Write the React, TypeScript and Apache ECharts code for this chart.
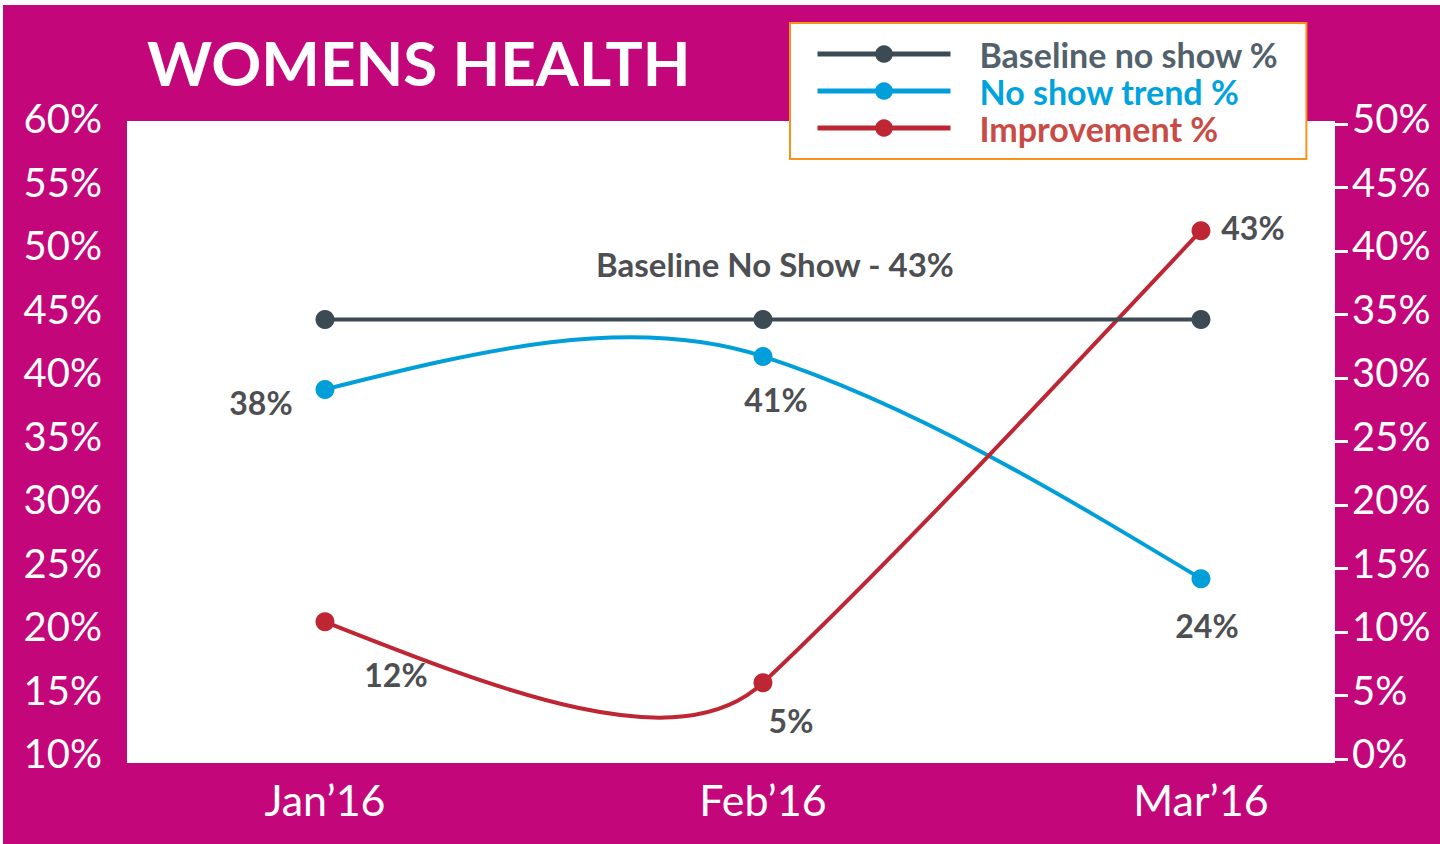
import React, { useEffect, useRef } from "react";
import * as echarts from "echarts";

const categories = ["Jan’16", "Feb’16", "Mar’16"];
const baselineValues = [44.6, 44.6, 44.6];
const trendValues = [39.1, 41.7, 24.2];
const improvementValues = [10.8, 6.0, 41.6];
const trendLabels = ["38%", "41%", "24%"];
const improvementLabels = ["12%", "5%", "43%"];
const baselineLabels = ["", "Baseline No Show - 43%", ""];
const seriesNames = ["Baseline no show %", "No show trend %", "Improvement %"];

// label offsets relative to each point (style)
const trendOffsets = [[-64, 13], [13, 43], [6, 47]];
const improvementOffsets = [[71, 53], [28, 38], [52, -3]];
const baselineOffsets = [[0, 0], [12, -56], [0, 0]];

const FONT = "Lato, 'Open Sans', sans-serif";
const MAGENTA = "#C4067B";
const C_BASE = "#3C4A54";
const C_TREND = "#009FDA";
const C_IMP = "#BE2633";
const LABEL = "#4D4F52";
// curve smoothing styles
const WEIGHT_POWER = 7;
const TREND_SMOOTH = 0.32;
const IMP_SMOOTH = 0.26;

function buildData(values: number[], labels: string[], offsets: number[][], size: number) {
  return values.map((v, i) => ({
    value: [i, v],
    label: {
      show: labels[i] !== "",
      formatter: labels[i],
      position: "inside",
      offset: offsets[i],
      align: "center",
      verticalAlign: "middle",
      color: LABEL,
      fontFamily: FONT,
      fontWeight: "bold",
      fontSize: size,
    },
  }));
}

function controls(pts: number[][], c: number) {
  const n = pts.length;
  const inC: number[][] = pts.map((p) => [p[0], p[1]]);
  const outC: number[][] = pts.map((p) => [p[0], p[1]]);
  for (let j = 1; j < n - 1; j++) {
    const a = pts[j - 1], p = pts[j], b = pts[j + 1];
    const d0 = Math.hypot(p[0] - a[0], p[1] - a[1]);
    const d1 = Math.hypot(b[0] - p[0], b[1] - p[1]);
    const w1 = Math.pow(d1 / d0, WEIGHT_POWER);
    const tx = p[0] - a[0] + w1 * (b[0] - p[0]);
    const ty = p[1] - a[1] + w1 * (b[1] - p[1]);
    const tl = Math.hypot(tx, ty) || 1;
    const ux = tx / tl, uy = ty / tl;
    inC[j] = [p[0] - ux * c * d0, p[1] - uy * c * d0];
    outC[j] = [p[0] + ux * c * d1, p[1] + uy * c * d1];
  }
  if (n > 2) {
    outC[0] = [(pts[0][0] + inC[1][0]) / 2, (pts[0][1] + inC[1][1]) / 2];
    inC[n - 1] = [(pts[n - 1][0] + outC[n - 2][0]) / 2, (pts[n - 1][1] + outC[n - 2][1]) / 2];
  }
  return { inC, outC };
}

function curveSeries(values: number[], color: string, yAxisIndex: number, c: number) {
  return {
    type: "custom",
    name: "curve-" + color,
    yAxisIndex,
    silent: true,
    z: 3,
    data: values.map((v, i) => [i, v]),
    renderItem: (params: any, api: any) => {
      const i = params.dataIndex;
      if (i === 0) return null;
      const pts = values.map((v, j) => api.coord([j, v]));
      const { inC, outC } = controls(pts, c);
      const p0 = pts[i - 1];
      const p1 = pts[i];
      return {
        type: "bezierCurve",
        shape: {
          x1: p0[0],
          y1: p0[1],
          cpx1: outC[i - 1][0],
          cpy1: outC[i - 1][1],
          cpx2: inC[i][0],
          cpy2: inC[i][1],
          x2: p1[0],
          y2: p1[1],
        },
        style: { stroke: color, lineWidth: 4, fill: "none" },
      };
    },
  };
}

export default function App() {
  const ref = useRef<HTMLDivElement>(null);
  useEffect(() => {
    document.body.style.margin = "0";
    const chart = echarts.init(ref.current!, null, { renderer: "svg" });
    const lineSeries = (name: string, color: string, data: any[], yAxisIndex: number, showLine: boolean) => ({
      name,
      type: "line",
      yAxisIndex,
      data,
      symbol: "circle",
      symbolSize: 19,
      lineStyle: { color, width: 4, opacity: showLine ? 1 : 0 },
      itemStyle: { color },
      z: 5,
    });
    const yLabel = (margin: number) => ({
      formatter: "{value}%",
      color: "#ffffff",
      fontFamily: FONT,
      fontSize: 40,
      margin,
      verticalAlign: "bottom",
      lineHeight: 12,
    });
    chart.setOption({
      animation: false,
      backgroundColor: "#ffffff",
      textStyle: { fontFamily: FONT },
      graphic: [
        { type: "rect", z: -100, silent: true, shape: { x: 3, y: 5, width: 1437, height: 839 }, style: { fill: MAGENTA } },
        { type: "rect", z: -99, silent: true, shape: { x: 127, y: 121, width: 1208, height: 642 }, style: { fill: "#ffffff" } },
      ],
      title: {
        text: "WOMENS HEALTH",
        left: 142,
        top: 26,
        textStyle: { color: "#ffffff", fontFamily: FONT, fontWeight: "bold", fontSize: 62 },
      },
      legend: {
        orient: "vertical",
        left: 790,
        top: 23,
        backgroundColor: "#ffffff",
        borderColor: "#F7941D",
        borderWidth: 2,
        padding: [14, 28, 14, 25],
        itemWidth: 133,
        itemHeight: 22,
        itemGap: 3,
        lineStyle: { width: 5, opacity: 1 },
        textStyle: { fontFamily: FONT, fontWeight: "bold", fontSize: 34, lineHeight: 30, padding: [0, 0, 0, 24] },
        data: [
          { name: seriesNames[0], textStyle: { color: "#52616C" } },
          { name: seriesNames[1], textStyle: { color: "#00A3DD" } },
          { name: seriesNames[2], textStyle: { color: "#C84B45" } },
        ],
      },
      grid: { left: 127, right: 105, top: 124, bottom: 85 },
      xAxis: {
        type: "value",
        min: -0.452,
        max: 2.306,
        axisLine: { show: false },
        axisTick: { show: false },
        splitLine: { show: false },
        axisLabel: {
          customValues: [0, 1, 2],
          formatter: (v: number) => categories[Math.round(v)],
          color: "#ffffff",
          fontFamily: FONT,
          fontSize: 43,
          margin: 19,
        },
      },
      yAxis: [
        {
          type: "value",
          min: 10,
          max: 60,
          interval: 5,
          position: "left",
          axisLine: { show: false },
          splitLine: { show: false },
          axisTick: { show: true, length: 16, lineStyle: { color: "#ffffff", width: 3 } },
          axisLabel: yLabel(25),
        },
        {
          type: "value",
          min: 0,
          max: 50,
          interval: 5,
          position: "right",
          axisLine: { show: false },
          splitLine: { show: false },
          axisTick: { show: true, length: 13, lineStyle: { color: "#ffffff", width: 3 } },
          axisLabel: yLabel(17),
        },
      ],
      series: [
        curveSeries(trendValues, C_TREND, 0, TREND_SMOOTH),
        curveSeries(improvementValues, C_IMP, 1, IMP_SMOOTH),
        lineSeries(seriesNames[0], C_BASE, buildData(baselineValues, baselineLabels, baselineOffsets, 33), 0, true),
        lineSeries(seriesNames[1], C_TREND, buildData(trendValues, trendLabels, trendOffsets, 32), 0, false),
        lineSeries(seriesNames[2], C_IMP, buildData(improvementValues, improvementLabels, improvementOffsets, 32), 1, false),
      ],
    });
    return () => chart.dispose();
  }, []);
  return <div ref={ref} style={{ width: 1440, height: 844 }} />;
}
